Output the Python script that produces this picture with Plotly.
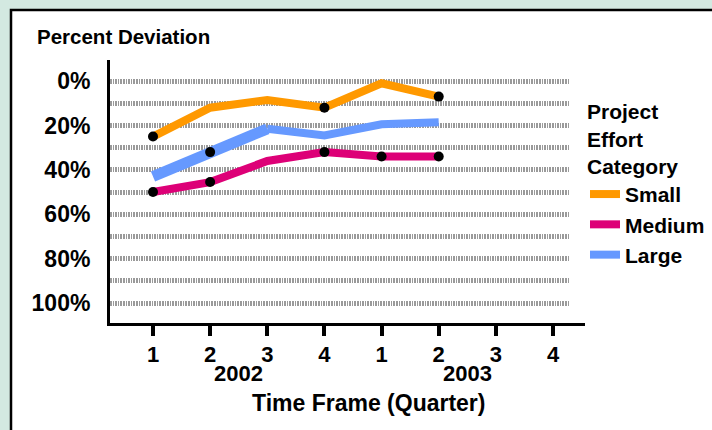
import plotly.graph_objects as go

# ---- data ----
quarters = [1, 2, 3, 4, 5, 6, 7, 8]
quarter_labels = ["1", "2", "3", "4", "1", "2", "3", "4"]
years = ["2002", "2003"]
year_centers = [2.5, 6.5]
x_points = [1, 2, 3, 4, 5, 6]

small = [25, 12, 8.5, 12, 1, 7]
medium = [50, 45.5, 36, 32, 34, 34]
large = [43, 32, 21.5, 24.5, 19.5, 18.5]

small_marked = [0, 3, 5]
medium_marked = [0, 1, 3, 4, 5]
large_marked = [1]

y_ticks = [0, 20, 40, 60, 80, 100]
y_tick_labels = [f"{v}%" for v in y_ticks]

ORANGE = "#FF9900"
MAGENTA = "#DD0077"
BLUE = "#6699FF"
FONT = "Liberation Sans, Arial, sans-serif"

# ---- geometry (pixels) ----
W, H = 712, 430
L, R, T, B = 110, 569, 60, 323
pw, ph = R - L, B - T

def px_x(px):
    return (px - L) / pw

def px_y(py):
    return (B - py) / ph

fig = go.Figure()

fig.add_trace(go.Scatter(x=x_points, y=small, mode="lines", name="Small",
                         line=dict(color=ORANGE, width=8)))
fig.add_trace(go.Scatter(x=x_points, y=medium, mode="lines", name="Medium",
                         line=dict(color=MAGENTA, width=8)))
fig.add_trace(go.Scatter(x=x_points[:3], y=large[:3], mode="lines", name="Large",
                         legendgroup="large", showlegend=False,
                         line=dict(color=BLUE, width=11)))
fig.add_trace(go.Scatter(x=x_points[2:], y=large[2:], mode="lines", name="Large",
                         legendgroup="large",
                         line=dict(color=BLUE, width=8)))

dot_x, dot_y = [], []
for series, idxs in ((small, small_marked), (medium, medium_marked), (large, large_marked)):
    for i in idxs:
        dot_x.append(x_points[i])
        dot_y.append(series[i])
fig.add_trace(go.Scatter(x=dot_x, y=dot_y, mode="markers", showlegend=False,
                         marker=dict(color="black", size=10), hoverinfo="skip"))

grid_style = dict(gridcolor="#9a9a9a", griddash="1.5px,1.1px", gridwidth=4.5)

fig.update_yaxes(
    range=[109.0, -9.5], tickmode="array", tickvals=y_ticks, ticktext=y_tick_labels,
    showline=True, linecolor="black", linewidth=3,
    showgrid=True, **grid_style, zeroline=False,
    ticks="", ticklabelstandoff=12,
    tickfont=dict(family=FONT, size=23, color="black", weight="bold"),
    minor=dict(dtick=10, showgrid=True, **grid_style),
)
fig.update_xaxes(
    range=[0.2475, 8.28], tickvals=quarters, ticktext=quarter_labels,
    showline=True, linecolor="black", linewidth=3,
    showgrid=False, zeroline=False,
    ticks="outside", ticklen=10, tickwidth=4, tickcolor="black",
    tickfont=dict(family=FONT, size=22, color="black", weight="bold"),
)

annotations = []
for yr, xc in zip(years, year_centers):
    annotations.append(dict(text=yr, x=xc, xref="x", y=px_y(373), yref="paper",
                            showarrow=False, xanchor="center", yanchor="middle",
                            font=dict(family=FONT, size=22, color="black", weight="bold")))
annotations.append(dict(text="Time Frame (Quarter)", x=px_x(368), xref="paper",
                        y=px_y(403), yref="paper", showarrow=False,
                        xanchor="center", yanchor="middle",
                        font=dict(family=FONT, size=23, color="black", weight="bold")))
annotations.append(dict(text="Percent Deviation", x=px_x(35), xref="paper",
                        y=px_y(36), yref="paper", showarrow=False,
                        xanchor="left", yanchor="middle",
                        font=dict(family=FONT, size=20.5, color="black", weight="bold")))

shapes = [
    dict(type="rect", xref="paper", yref="paper", layer="below",
         x0=px_x(11), x1=px_x(730), y0=px_y(450), y1=px_y(10),
         fillcolor="white", line=dict(color="black", width=2.5)),
    dict(type="line", xref="paper", yref="paper", layer="above",
         x0=px_x(560), x1=px_x(585), y0=px_y(324.5), y1=px_y(324.5),
         line=dict(color="black", width=3)),
]

fig.update_layout(
    width=W, height=H,
    margin=dict(l=L, r=W - R, t=T, b=H - B, autoexpand=False),
    paper_bgcolor="#d3e9e1", plot_bgcolor="white",
    font=dict(family=FONT, color="black"),
    annotations=annotations, shapes=shapes,
    showlegend=True,
    legend=dict(
        x=px_x(585), xanchor="left", y=px_y(92), yanchor="top",
        bgcolor="rgba(0,0,0,0)",
        title=dict(text="Project<br>Effort<br>Category",
                   font=dict(family=FONT, size=21, color="black", weight="bold")),
        font=dict(family=FONT, size=21, color="black", weight="bold"),
        tracegroupgap=0,
    ),
)

fig.write_html("out.html", post_script="document.body.style.margin='0';",
               config={"displayModeBar": False})
